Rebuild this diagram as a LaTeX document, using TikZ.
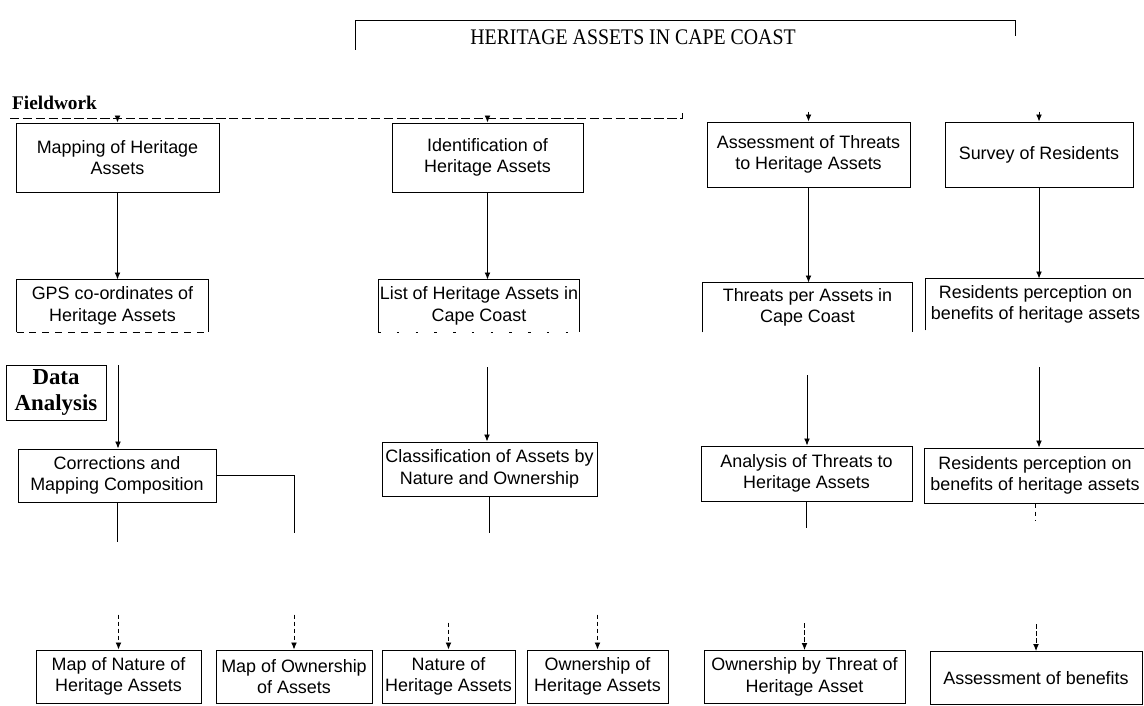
\documentclass[tikz,border=0pt]{standalone}
\usepackage{fontspec}
\setmainfont{Liberation Serif}
\setsansfont{Liberation Sans}
\newfontfamily\titlefont[FakeStretch=0.89]{Liberation Serif}
\usetikzlibrary{arrows.meta}
\begin{document}
\begin{tikzpicture}[x=0.03cm,y=-0.03cm,
  box/.style={draw, line width=0.8pt, align=center, inner sep=1pt,
    font=\sffamily\fontsize{15.3}{18.5}\selectfont},
  openbox/.style={box, draw=none},
  wh/.style 2 args={minimum width=#1*0.03cm, minimum height=#2*0.03cm},
  conn/.style={line width=0.8pt},
  arr/.style={line width=0.8pt, -{Latex[length=6pt,width=5pt]}},
  darr/.style={arr, dash pattern=on 4pt off 2pt},
  lbl/.style={font=\bfseries\fontsize{16.5}{19}\selectfont},
]
\useasboundingbox (0,0) rectangle (1144,706);

% title
\node[font=\titlefont\fontsize{19}{22}\selectfont] (title) at (633,37) {HERITAGE ASSETS IN CAPE COAST};
\coordinate (t1) at (355,50);
\coordinate (t2) at (355,20);
\coordinate (t3) at (1015,20);
\coordinate (t4) at (1015,36);
\draw[conn] (t1) -- (t2) -- (t3) -- (t4);

% labels
\node[lbl, anchor=west] (fw) at (8,103) {Fieldwork};
\node[draw, line width=0.8pt, align=center, inner sep=1pt, wh={100}{55},
  font=\bfseries\fontsize{19.5}{22}\selectfont] (da) at (56,392.5) {Data\\Analysis};

% row 1
\node[box, wh={203}{69}] (map1) at (117.5,157.5) {Mapping of Heritage\\Assets};
\node[box, wh={191}{69}] (ident) at (487.5,157.5) {Identification of\\Heritage Assets};
\node[box, wh={203}{65}] (assess) at (808.5,154.5) {Assessment of Threats\\to Heritage Assets};
\node[box, wh={188}{65}] (survey) at (1039,154.5) {Survey of Residents};

% row 2
\node[openbox, wh={191}{52}] (gps) at (112.5,306) {GPS co-ordinates of\\Heritage Assets};
\node[openbox, wh={196}{52}] (list) at (479,306) {List of Heritage Assets in\\Cape Coast};
\node[openbox, wh={209}{49}] (threats) at (807.5,307.5) {Threats per Assets in\\Cape Coast};
\node[openbox, wh={219}{51}] (res1) at (1035.5,304.5) {Residents perception on\\benefits of heritage assets};
\foreach \n in {gps,list,threats,res1}
  \draw[conn] (\n.south west) |- (\n.north east) -- (\n.south east);
\draw[conn, dash pattern=on 6pt off 5pt] (gps.south west) -- (gps.south east);
\draw[conn, dash pattern=on 2pt off 14pt] (list.south west) -- (list.south east);

% row 3
\node[box, wh={198}{53}] (corr) at (117,475.5) {Corrections and\\Mapping Composition};
\node[box, wh={215}{54}] (class) at (489.5,469) {Classification of Assets by\\Nature and Ownership};
\node[box, wh={211}{55}] (anal) at (806.5,473.5) {Analysis of Threats to\\Heritage Assets};
\node[box, wh={221}{55}] (res2) at (1035,475.5) {Residents perception on\\benefits of heritage assets};

% row 4
\node[box, wh={165}{53}] (mapnat) at (118.5,676.5) {Map of Nature of\\Heritage Assets};
\node[box, wh={156}{53}] (mapown) at (294,676.5) {Map of Ownership\\of Assets};
\node[box, wh={133}{53}] (nat) at (448.5,676.5) {Nature of\\Heritage Assets};
\node[box, wh={141}{53}] (own) at (597.5,676.5) {Ownership of\\Heritage Assets};
\node[box, wh={201}{53}] (ownthr) at (804.5,677) {Ownership by Threat of\\Heritage Asset};
\node[box, wh={212}{53}] (assben) at (1036,678) {Assessment of benefits};

% fieldwork line
\coordinate (fw0) at (10,118);
\coordinate (fw1) at (682,118);
\draw[conn, dash pattern=on 8pt off 3pt] (fw0) -- (fw1) -- ++(0,-5);
\draw[arr] (map1.north |- fw0) -- (map1.north);
\draw[arr] (ident.north |- fw0) -- (ident.north);
\draw[arr] (assess.north) ++(0,-10) -- (assess.north);
\draw[arr] (survey.north) ++(0,-10) -- (survey.north);

% row 1 -> row 2
\draw[arr] (map1.south) -- (map1.south |- gps.north);
\draw[arr] (ident.south) -- (ident.south |- list.north);
\draw[arr] (assess.south) -- (assess.south |- threats.north);
\draw[arr] (survey.south) -- (survey.south |- res1.north);

% row 2 -> row 3
\coordinate (g1) at (118,365);
\coordinate (l1) at (487,367);
\coordinate (h1) at (807,375);
\coordinate (r1) at (1039,367);
\draw[arr] (g1) -- (g1 |- corr.north);
\draw[arr] (l1) -- (l1 |- class.north);
\draw[arr] (h1) -- (h1 |- anal.north);
\draw[arr] (r1) -- (r1 |- res2.north);

% row 3 -> down (broken)
\coordinate (c2) at (294,533);
\draw[conn] (corr.south) -- ++(0,40);
\draw[conn] (corr.east) -| (c2);
\draw[conn] (class.south) -- ++(0,37);
\draw[conn] (anal.south) -- ++(0,27);
\draw[conn, dash pattern=on 4pt off 3pt] (res2.south) -- ++(0,17);

% into row 4
\draw[darr] (mapnat.north) ++(0,-35) -- (mapnat.north);
\draw[darr] (mapown.north) ++(0,-35) -- (mapown.north);
\draw[darr] (nat.north) ++(0,-27) -- (nat.north);
\draw[darr] (own.north) ++(0,-35) -- (own.north);
\draw[darr] (ownthr.north) ++(0,-27) -- (ownthr.north);
\draw[darr] (assben.north) ++(0,-27) -- (assben.north);
\end{tikzpicture}
\end{document}
